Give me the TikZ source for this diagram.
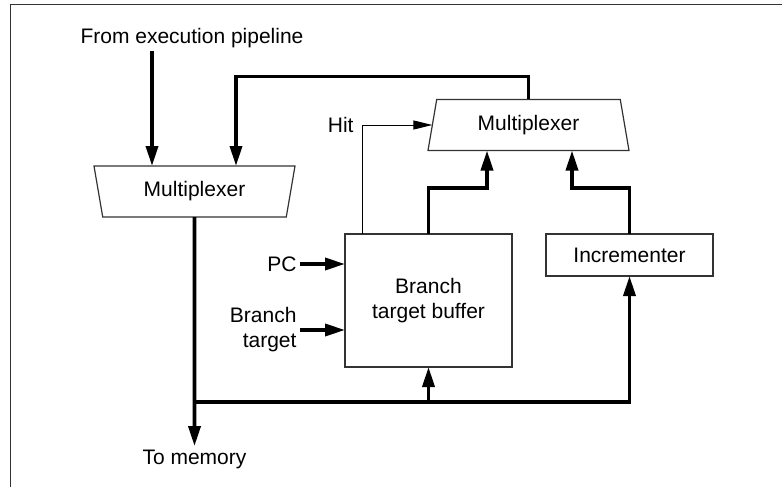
\documentclass[tikz,border=0pt]{standalone}
\usepackage{fontspec}
\setmainfont{Liberation Sans}
\usetikzlibrary{arrows.meta,shapes.geometric}

\begin{document}
\begin{tikzpicture}[x=1pt,y=-1pt,
    every node/.style={font=\fontsize{21}{25}\selectfont},
    mux node/.style={trapezium,draw=black!80,line width=1.2pt,outer sep=0pt,
      trapezium angle=71.6,trapezium stretches body,
      minimum width=201pt,minimum height=51pt},
    box node/.style={rectangle,draw=black!80,line width=1.2pt,outer sep=0pt},
    bus/.style={line width=3.6pt,-{Triangle[length=20pt,width=12pt]}},
    sig/.style={line width=1pt,-{Triangle[length=19pt,width=9pt]}}]
    \useasboundingbox (0,0) rectangle (782,487);
    \draw[line width=1.5pt,black!80] (10.5,487) -- (10.5,4.5) -- (782,4.5);

    \node[mux node,shape border rotate=180] (lmux) at (194.5,191.5) {Multiplexer};
    \node[mux node] (rmux) at (528.5,125) {Multiplexer};
    \node[box node,minimum width=167pt,minimum height=133pt,align=center]
      (btb) at (428.5,300.5) {Branch\\target buffer};
    \node[box node,minimum width=167pt,minimum height=42pt] (inc) at (629.5,255) {Incrementer};

    \node (from) at (192,38) {From execution pipeline};
    \node[anchor=east] (pc) at (300,264) {PC};
    \node[anchor=east,align=right] (brt) at (300,330) {Branch\\target};
    \node (tomem) at (194.5,459) {To memory};

    \coordinate (in1) at ([xshift=-42.5pt]lmux.north);
    \coordinate (in2) at ([xshift=41.5pt]lmux.north);
    \coordinate (tap) at (lmux.south |- 0,402);

    % inputs of the left multiplexer
    \draw[bus] (from.south -| in1) -- (in1);
    \draw[bus] (rmux.north) -- ++(0,-23) -| (in2);
    % hit line and the two paths into the right multiplexer
    \draw[sig] ([xshift=-66.5pt]btb.north) |- node[left,inner sep=8pt] {Hit} (rmux.west);
    \draw[bus] (btb.north) -- ++(0,-46) -| ([xshift=-41.5pt]rmux.south);
    \draw[bus] (inc.north) -- ++(0,-46) -| ([xshift=43.5pt]rmux.south);
    % buffer inputs
    \draw[bus] (pc.east) -- (pc.east -| btb.west);
    \draw[bus] (pc.east |- brt) -- (brt -| btb.west);
    % output and feedback
    \draw[bus] (lmux.south) -- (tomem.north);
    \draw[bus] (tap) -| (inc.south);
    \draw[bus] (tap -| btb.south) -- (btb.south);
\end{tikzpicture}
\end{document}
